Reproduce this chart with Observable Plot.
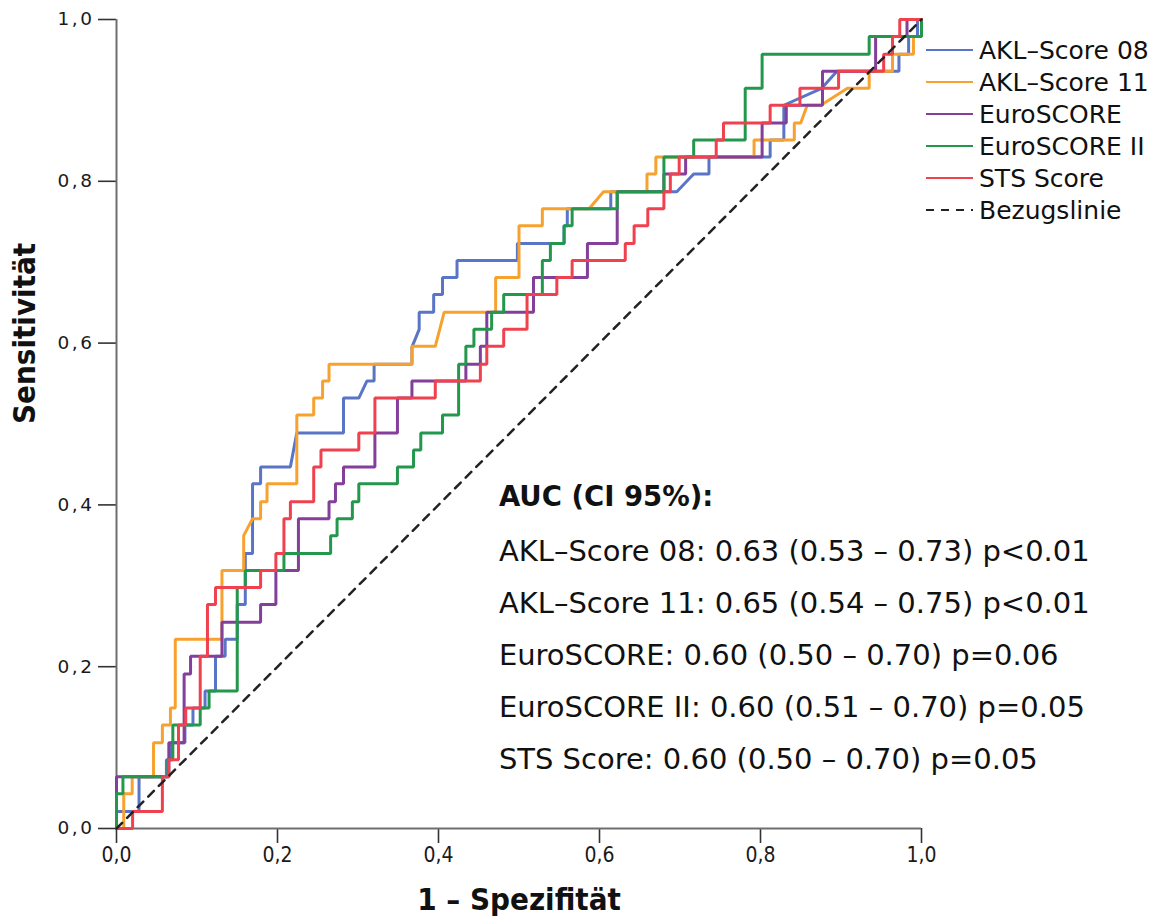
<!DOCTYPE html>
<html>
<head>
<meta charset="utf-8">
<script src="https://cdn.jsdelivr.net/npm/d3@7"></script>
<script src="https://cdn.jsdelivr.net/npm/@observablehq/plot@0.6"></script>
<style>
  body { margin: 0; background: #fff; }
  #wrap { position: relative; width: 1164px; height: 917px; }
  #legend { position: absolute; left: 926px; top: 34px; font-family: "DejaVu Sans"; font-size: 25px; color: #111; }
  #legend .row { height: 32px; display: flex; align-items: center; white-space: nowrap; }
  #legend .row svg { margin-right: 6px; flex: none; }
  text.ytick { font-size: 18.5px !important; font-family: "DejaVu Sans" !important; letter-spacing: 2.5px; }
  text.xtick { font-size: 21px !important; font-family: "DejaVu Sans Condensed" !important; }
</style>
</head>
<body>
<div id="wrap"><div id="legend"></div></div>
<script>
// ---- Data ----
const seriesNames = ["AKL–Score 08", "AKL–Score 11", "EuroSCORE", "EuroSCORE II", "STS Score"];
const seriesColors = ["#5a74c6", "#f7a22e", "#833f99", "#23984c", "#f0414f"];

// ROC vertices: [1 - Spezifität, Sensitivität]
const akl08 = [[0,0],[0,0.021],[0.028,0.021],[0.028,0.064],[0.062,0.064],[0.062,0.085],[0.068,0.085],[0.068,0.106],[0.085,0.106],[0.085,0.128],[0.095,0.128],[0.095,0.149],[0.11,0.149],[0.11,0.17],[0.123,0.17],[0.123,0.213],[0.135,0.213],[0.135,0.234],[0.15,0.234],[0.15,0.277],[0.16,0.277],[0.16,0.34],[0.169,0.34],[0.169,0.426],[0.179,0.426],[0.179,0.447],[0.216,0.447],[0.224,0.489],[0.282,0.489],[0.282,0.532],[0.301,0.532],[0.311,0.553],[0.32,0.553],[0.32,0.574],[0.367,0.574],[0.367,0.595],[0.376,0.617],[0.376,0.638],[0.394,0.638],[0.394,0.66],[0.405,0.66],[0.405,0.681],[0.423,0.681],[0.423,0.702],[0.498,0.702],[0.498,0.723],[0.556,0.723],[0.556,0.745],[0.56,0.745],[0.56,0.766],[0.614,0.766],[0.614,0.787],[0.696,0.787],[0.717,0.809],[0.736,0.809],[0.736,0.83],[0.812,0.83],[0.812,0.851],[0.829,0.851],[0.829,0.894],[0.876,0.915],[0.895,0.936],[0.972,0.936],[0.972,0.957],[0.984,0.957],[0.984,0.979],[0.995,0.979],[0.995,1],[1,1]];
const akl11 = [[0,0],[0.009,0],[0.009,0.043],[0.0195,0.043],[0.0195,0.064],[0.046,0.064],[0.046,0.106],[0.057,0.106],[0.057,0.128],[0.067,0.128],[0.067,0.149],[0.073,0.149],[0.073,0.234],[0.131,0.234],[0.131,0.319],[0.158,0.319],[0.158,0.362],[0.169,0.383],[0.179,0.383],[0.179,0.404],[0.187,0.404],[0.187,0.426],[0.224,0.426],[0.224,0.511],[0.245,0.511],[0.245,0.532],[0.256,0.532],[0.256,0.553],[0.264,0.553],[0.264,0.574],[0.367,0.574],[0.367,0.596],[0.396,0.596],[0.407,0.638],[0.471,0.638],[0.471,0.681],[0.5,0.681],[0.5,0.745],[0.529,0.745],[0.529,0.766],[0.587,0.766],[0.605,0.787],[0.659,0.787],[0.659,0.809],[0.67,0.809],[0.67,0.83],[0.792,0.83],[0.792,0.851],[0.842,0.851],[0.842,0.872],[0.85,0.872],[0.858,0.894],[0.875,0.894],[0.908,0.915],[0.935,0.915],[0.935,0.936],[0.964,0.936],[0.964,0.957],[0.99,0.957],[0.99,0.979],[1,0.979],[1,1]];
const euro = [[0,0],[0,0.064],[0.065,0.064],[0.065,0.106],[0.084,0.106],[0.084,0.191],[0.092,0.191],[0.092,0.213],[0.131,0.213],[0.131,0.255],[0.179,0.255],[0.179,0.277],[0.198,0.277],[0.198,0.319],[0.226,0.319],[0.226,0.383],[0.264,0.383],[0.264,0.404],[0.272,0.404],[0.272,0.426],[0.282,0.426],[0.282,0.447],[0.321,0.447],[0.321,0.489],[0.349,0.489],[0.349,0.532],[0.367,0.532],[0.367,0.553],[0.434,0.553],[0.434,0.574],[0.452,0.574],[0.452,0.596],[0.46,0.596],[0.46,0.638],[0.518,0.638],[0.518,0.681],[0.585,0.681],[0.585,0.723],[0.622,0.723],[0.622,0.787],[0.68,0.787],[0.68,0.809],[0.707,0.809],[0.707,0.83],[0.802,0.83],[0.802,0.872],[0.832,0.872],[0.832,0.894],[0.877,0.894],[0.877,0.936],[0.943,0.936],[0.943,0.979],[0.982,0.979],[0.982,1],[1,1]];
const euro2 = [[0,0],[0,0.043],[0.008,0.043],[0.008,0.064],[0.064,0.064],[0.064,0.085],[0.07,0.085],[0.07,0.128],[0.104,0.128],[0.104,0.149],[0.115,0.149],[0.115,0.17],[0.15,0.17],[0.15,0.298],[0.16,0.298],[0.16,0.319],[0.208,0.319],[0.208,0.34],[0.266,0.34],[0.266,0.362],[0.274,0.362],[0.274,0.383],[0.293,0.383],[0.293,0.404],[0.301,0.404],[0.301,0.426],[0.349,0.426],[0.349,0.447],[0.369,0.447],[0.369,0.468],[0.378,0.468],[0.378,0.489],[0.405,0.489],[0.405,0.511],[0.425,0.511],[0.425,0.574],[0.434,0.574],[0.434,0.596],[0.444,0.596],[0.444,0.617],[0.466,0.617],[0.466,0.638],[0.481,0.638],[0.481,0.66],[0.529,0.66],[0.529,0.702],[0.539,0.702],[0.539,0.723],[0.556,0.723],[0.556,0.745],[0.566,0.745],[0.566,0.766],[0.622,0.766],[0.622,0.787],[0.68,0.787],[0.68,0.83],[0.717,0.83],[0.717,0.851],[0.781,0.851],[0.781,0.915],[0.802,0.915],[0.802,0.957],[0.935,0.957],[0.935,0.979],[1,0.979],[1,1]];
const sts = [[0,0],[0.02,0],[0.02,0.021],[0.057,0.021],[0.057,0.064],[0.065,0.064],[0.065,0.085],[0.077,0.085],[0.077,0.128],[0.086,0.128],[0.086,0.149],[0.104,0.149],[0.104,0.213],[0.113,0.213],[0.113,0.277],[0.123,0.277],[0.123,0.298],[0.179,0.298],[0.179,0.319],[0.198,0.319],[0.198,0.34],[0.208,0.34],[0.208,0.383],[0.216,0.383],[0.216,0.404],[0.245,0.404],[0.245,0.447],[0.254,0.447],[0.254,0.468],[0.301,0.468],[0.301,0.489],[0.321,0.489],[0.321,0.532],[0.396,0.532],[0.396,0.553],[0.452,0.553],[0.452,0.574],[0.46,0.574],[0.46,0.596],[0.481,0.596],[0.481,0.617],[0.51,0.617],[0.51,0.66],[0.547,0.66],[0.547,0.681],[0.566,0.681],[0.566,0.702],[0.632,0.702],[0.632,0.723],[0.643,0.723],[0.643,0.745],[0.66,0.745],[0.66,0.766],[0.68,0.766],[0.68,0.787],[0.688,0.787],[0.688,0.809],[0.699,0.809],[0.699,0.83],[0.745,0.83],[0.745,0.851],[0.754,0.851],[0.754,0.872],[0.812,0.872],[0.812,0.894],[0.849,0.894],[0.849,0.915],[0.897,0.915],[0.897,0.936],[0.953,0.936],[0.953,0.957],[0.964,0.957],[0.964,0.979],[0.973,0.979],[0.973,1],[1,1]];
const curves = [akl08, akl11, euro, euro2, sts];

const referenceLine = [[0,0],[1,1]];
const referenceName = "Bezugslinie";

const tickValues = [0, 0.2, 0.4, 0.6, 0.8, 1.0];
const xLabel = "1 – Spezifität";
const yLabel = "Sensitivität";

const aucTitle = "AUC (CI 95%):";
const aucLines = [
  "AKL–Score 08: 0.63 (0.53 – 0.73) p<0.01",
  "AKL–Score 11: 0.65 (0.54 – 0.75) p<0.01",
  "EuroSCORE: 0.60 (0.50 – 0.70) p=0.06",
  "EuroSCORE II: 0.60 (0.51 – 0.70) p=0.05",
  "STS Score: 0.60 (0.50 – 0.70) p=0.05"
];

// ---- Build ----
const rows = seriesNames.flatMap((name, i) => curves[i].map(([x, y]) => ({series: name, x, y})));
const fmt = d => d.toFixed(1).replace(".", ",");

const annX = 0.475, annTitleY = 0.409, annY0 = 0.342, annStep = 0.0641;

const lineMarks = seriesNames.map(name =>
  Plot.line(rows.filter(d => d.series === name), {x: "x", y: "y", stroke: "series", strokeWidth: 3, strokeLinejoin: "miter"})
);

const chart = Plot.plot({
  width: 1164,
  height: 917,
  marginLeft: 116,
  marginRight: 243,
  marginTop: 19,
  marginBottom: 89,
  style: {fontFamily: "DejaVu Sans", background: "white", overflow: "visible"},
  x: {domain: [0, 1]},
  y: {domain: [0, 1]},
  color: {domain: seriesNames, range: seriesColors},
  marks: [
    Plot.axisY({ticks: tickValues, tickFormat: fmt, tickSize: 18, tickPadding: 4, fontSize: 18.5, stroke: "#333", strokeWidth: 1.6, fill: "#1a1a1a", label: null}),
    Plot.axisX({ticks: tickValues, tickFormat: fmt, tickSize: 15, tickPadding: 4, fontSize: 21, stroke: "#333", strokeWidth: 1.6, fill: "#1a1a1a", label: null}),
    Plot.ruleX([0], {stroke: "#6e6e6e", strokeWidth: 2}),
    Plot.ruleY([0], {stroke: "#6e6e6e", strokeWidth: 2}),
    ...lineMarks,
    Plot.line(referenceLine, {x: d => d[0], y: d => d[1], stroke: "#222", strokeWidth: 2.5, strokeDasharray: "8,7"}),
    Plot.text([aucTitle], {x: () => annX, y: () => annTitleY, text: d => d, textAnchor: "start", fontSize: 27.5, fontWeight: "bold", fill: "#111"}),
    Plot.text(aucLines, {x: () => annX, y: (d, i) => annY0 - i * annStep, text: d => d, textAnchor: "start", fontSize: 29, fill: "#111"}),
    Plot.text([xLabel], {frameAnchor: "bottom", dy: 81, text: d => d, fontSize: 31, fontWeight: "bold", fontFamily: "DejaVu Sans Condensed", fill: "#111"}),
    Plot.text([yLabel], {frameAnchor: "left", dx: -91, rotate: -90, text: d => d, fontSize: 31, fontWeight: "bold", fontFamily: "DejaVu Sans Condensed", fill: "#111"})
  ]
});

const wrap = document.getElementById("wrap");
wrap.insertBefore(chart, wrap.firstChild);

// tick label typography like the reference (classify tick labels by their anchor/position)
d3.select(chart).selectAll("text").each(function () {
  if (!/^\d,\d$/.test(this.textContent)) return;
  const box = this.getBBox();
  const m = this.getCTM();
  const cx = m ? m.a * (box.x + box.width / 2) + m.e : box.x;
  if (cx < 110) this.classList.add("ytick");
  else this.classList.add("xtick");
});

// ---- Legend (HTML) ----
const legend = d3.select("#legend");
seriesNames.forEach((name, i) => {
  const row = legend.append("div").attr("class", "row");
  const s = row.append("svg").attr("width", 47).attr("height", 6);
  s.append("line").attr("x1", 0).attr("x2", 47).attr("y1", 3).attr("y2", 3)
    .attr("stroke", seriesColors[i]).attr("stroke-width", 2.2);
  row.append("span").text(name);
});
{
  const row = legend.append("div").attr("class", "row");
  const s = row.append("svg").attr("width", 47).attr("height", 6);
  s.append("line").attr("x1", 0).attr("x2", 47).attr("y1", 3).attr("y2", 3)
    .attr("stroke", "#222").attr("stroke-width", 2.2).attr("stroke-dasharray", "8,7");
  row.append("span").text(referenceName);
}
</script>
</body>
</html>
